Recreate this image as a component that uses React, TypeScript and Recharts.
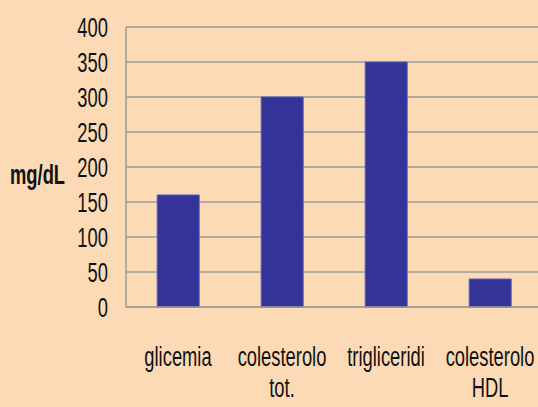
import { Bar, BarChart, CartesianGrid, XAxis, YAxis } from 'recharts'

const categories = ['glicemia', 'colesterolo tot.', 'trigliceridi', 'colesterolo HDL']
const labelLines = [['glicemia'], ['colesterolo', 'tot.'], ['trigliceridi'], ['colesterolo', 'HDL']]
const values = [160, 300, 350, 40]
const yTicks = [0, 50, 100, 150, 200, 250, 300, 350, 400]

const data = categories.map((name, i) => ({ name, value: values[i] }))

// no narrow face installed, so squeeze Liberation Sans horizontally
const FONT = "'Liberation Sans', Arial, sans-serif"
const SQUEEZE = 0.68

function CategoryTick(props: any) {
  const { x, y, index } = props
  const lines = labelLines[index] ?? []
  return (
    <text transform={`translate(${x},${y}) scale(${SQUEEZE},1)`} textAnchor="middle" fill="#111" fontFamily={FONT} fontSize={27}>
      {lines.map((line, i) => (
        <tspan key={i} x={0} dy={i === 0 ? 59 : 31}>
          {line}
        </tspan>
      ))}
    </text>
  )
}

function ValueTick(props: any) {
  const { x, y, payload } = props
  return (
    <text transform={`translate(${x},${y}) scale(${SQUEEZE},1)`} textAnchor="end" dy="0.36em" fill="#111" fontFamily={FONT} fontSize={27}>
      {payload.value}
    </text>
  )
}

function UnitLabel(props: any) {
  const vb = props.viewBox ?? { y: 0, height: 0 }
  return (
    <text
      transform={`translate(10,${vb.y + vb.height / 2 + 17}) scale(${SQUEEZE},1)`}
      fill="#111"
      fontFamily={FONT}
      fontSize={27}
      fontWeight="bold"
    >
      mg/dL
    </text>
  )
}

export default function App() {
  return (
    <div
      style={{
        position: 'fixed',
        left: 0,
        top: 0,
        width: 538,
        height: 407,
        overflow: 'hidden',
        background: '#FDDAB6',
      }}
    >
      <BarChart
        width={546}
        height={407}
        data={data}
        margin={{ top: 27, right: 4, left: 0, bottom: 0 }}
        barCategoryGap="30%"
      >
        <CartesianGrid vertical={false} stroke="#9c9a98" strokeWidth={1.5} />
        <XAxis
          dataKey="name"
          height={100}
          tickLine={false}
          tickSize={0}
          tickMargin={0}
          axisLine={{ stroke: '#9c9a98', strokeWidth: 1.5 }}
          tick={<CategoryTick />}
          interval={0}
        />
        <YAxis
          width={126}
          domain={[0, 400]}
          ticks={yTicks}
          interval={0}
          tickLine={false}
          tickSize={0}
          tickMargin={18}
          axisLine={{ stroke: '#9c9a98', strokeWidth: 1.5 }}
          tick={<ValueTick />}
          label={<UnitLabel />}
        />
        <Bar dataKey="value" fill="#333399" stroke="#4a62b8" strokeWidth={1} isAnimationActive={false} />
      </BarChart>
    </div>
  )
}
